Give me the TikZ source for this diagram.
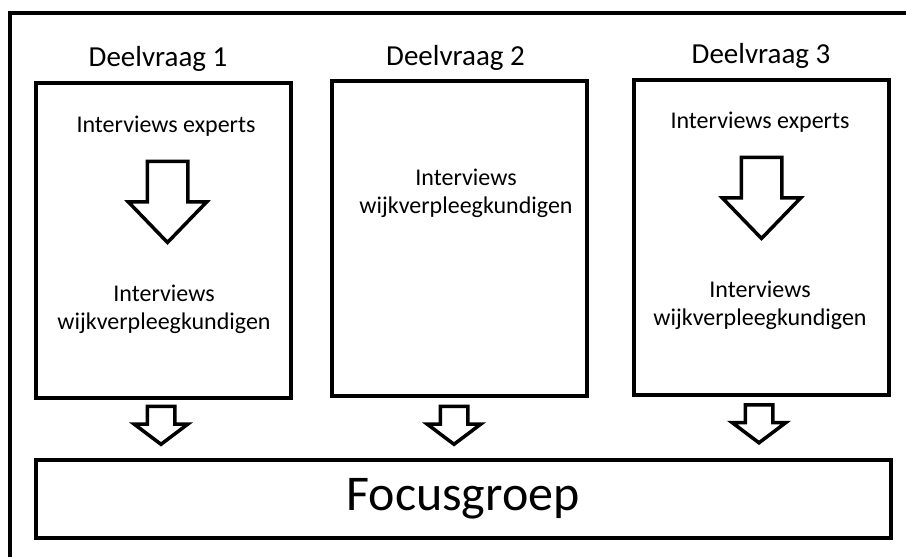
\documentclass[tikz,border=0pt]{standalone}
\usepackage{fontspec}
\setmainfont{Carlito}
\usetikzlibrary{shapes.arrows}
\begin{document}
\begin{tikzpicture}[x=1pt,y=-1pt]
\tikzstyle{every node}+=[inner sep=0pt]
\tikzstyle{box}=[draw,line width=4pt,minimum width=255pt,minimum height=315pt]
\tikzstyle{title}=[anchor=base,font=\fontsize{29}{34}\selectfont]
\tikzstyle{txt}=[anchor=base,align=center,font=\fontsize{24}{27.5}\selectfont]
\tikzstyle{bigarrow}=[draw,line width=3.5pt,shape=single arrow,shape border rotate=270,anchor=tip,inner sep=18.5pt,minimum height=81pt,single arrow head extend=19pt,single arrow tip angle=88]
\tikzstyle{smallarrow}=[draw,line width=3.5pt,shape=single arrow,shape border rotate=270,anchor=tip,inner sep=12pt,minimum height=38pt,single arrow head extend=13pt,single arrow tip angle=106]
\useasboundingbox (0,0) rectangle (906,557);
\clip (0,0) rectangle (906,557);
\draw [line width=4pt] (10,13) rectangle (930,580);
\node [title] (t1) at (158,66) {Deelvraag 1};
\node [title] (t2) at (455.5,65) {Deelvraag 2};
\node [title] (t3) at (761,63) {Deelvraag 3};
\node [box] (dv1) at (163.25,240) {};
\node [box] (dv2) at (459.5,238) {};
\node [box] (dv3) at (761.5,237) {};
\node [txt] (exp1) at (166,132) {Interviews experts};
\node [txt] (wijk1) at (164,329) {Interviews\\wijkverpleegkundigen};
\node [txt] (wijk2) at (466,213) {Interviews\\wijkverpleegkundigen};
\node [txt] (exp3) at (760,128) {Interviews experts};
\node [txt] (wijk3) at (760,325) {Interviews\\wijkverpleegkundigen};
\node [bigarrow] (pijl1) at (167.5,245) {};
\node [bigarrow] (pijl3) at (761.5,241) {};
\node [box,minimum width=855pt,minimum height=78pt,font=\fontsize{50}{58}\selectfont] (focus) at (463,499) {Focusgroep};
\node [smallarrow] (naar1) at (161,446.5) {};
\node [smallarrow] (naar2) at (454,446.5) {};
\node [smallarrow] (naar3) at (759,445) {};
\end{tikzpicture}
\end{document}
